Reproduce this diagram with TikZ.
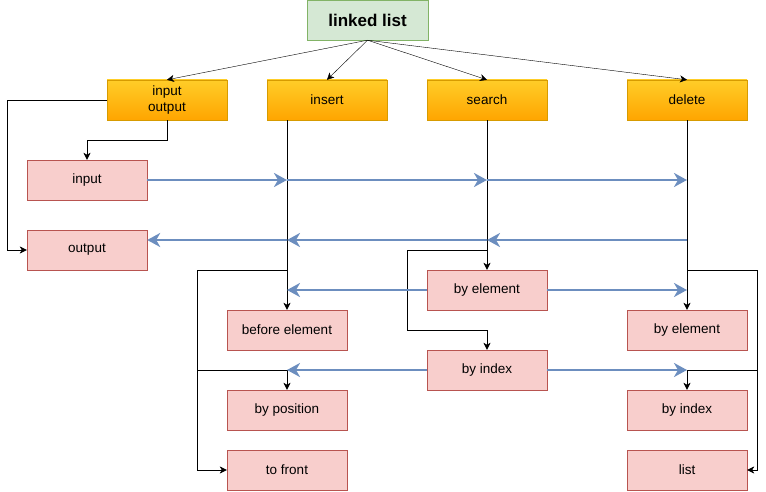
\documentclass[tikz,border=0pt]{standalone}
\usepackage{fontspec}
\setmainfont{Liberation Sans}
\usepackage{xcolor}
\usepackage{tikz}
\usetikzlibrary{positioning,arrows.meta}

\definecolor{rootfill}{HTML}{D5E8D4}
\definecolor{rootline}{HTML}{82B366}
\definecolor{optop}{HTML}{FFCD28}
\definecolor{opbottom}{HTML}{FFA500}
\definecolor{opline}{HTML}{D79B00}
\definecolor{leaffill}{HTML}{F8CECC}
\definecolor{leafline}{HTML}{B85450}
\definecolor{flowline}{HTML}{6C8EBF}

\begin{document}
\begin{tikzpicture}[x=1pt, y=-1pt, >={Stealth[length=7pt,width=7pt,inset=2pt]},
  every node/.style={font=\fontsize{13.5}{15.5}\selectfont, inner sep=0pt, align=center},
  rootbox/.style={draw=rootline, fill=rootfill, minimum width=121pt, minimum height=40pt, font=\fontsize{17}{19}\selectfont\bfseries},
  opbox/.style={draw=opline, top color=optop, bottom color=opbottom, minimum width=120pt, minimum height=40pt},
  leafbox/.style={draw=leafline, fill=leaffill, minimum width=120pt, minimum height=40pt},
  flow/.style={draw=flowline, line width=2.5pt, -{Stealth[length=13pt,width=14pt,inset=4pt]}}]
\useasboundingbox (0,0) rectangle (766,492);

% root node
\node[rootbox] (ll) at (367.5,20) {linked list};

% operation nodes
\node[opbox] (io) at (167,100) {input\\output};
\node[opbox] (insert) at (327,100) {insert};
\node[opbox] (search) at (487,100) {search};
\node[opbox] (delete) at (687,100) {delete};

% leaf nodes
\node[leafbox] (input) at (87,180) {input};
\node[leafbox] (output) at (87,250) {output};
\node[leafbox] (selem) at (487,290) {by element};
\node[leafbox] (before) at (287,330) {before element};
\node[leafbox] (delem) at (687,330) {by element};
\node[leafbox] (sidx) at (487,370) {by index};
\node[leafbox] (bypos) at (287,410) {by position};
\node[leafbox] (didx) at (687,410) {by index};
\node[leafbox] (front) at (287,470) {to front};
\node[leafbox] (dlist) at (687,470) {list};

% root to operations
\draw[->] (ll.south) -- (io.north);
\draw[->] (ll.south) -- (insert.north);
\draw[->] (ll.south) -- (search.north);
\draw[->] (ll.south) -- (delete.north);

% input output
\draw[->] (io.west) -- ++(-100,0) |- (output.west);
\draw[->] (io.south) -- ++(0,20) -| (input.north);

% insert
\coordinate (ins) at (insert.south -| before.north);
\draw[->] (ins) -- (before.north);
\draw[->] (ins) -- ++(0,150) -- ++(-90,0) |- (front.west);
\draw[->] (ins) -- ++(0,150) -- ++(-90,0) -- ++(0,100) -| (bypos.north);

% search
\draw[->] (search.south) -- (selem.north);
\draw[->] (search.south) -- ++(0,130) -- ++(-80,0) -- ++(0,80) -| (sidx.north);

% delete
\draw[->] (delete.south) -- (delem.north);
\draw[->] (delete.south) -- ++(0,150) -- ++(70,0) |- (dlist.east);
\draw[->] (delete.south) -- ++(0,150) -- ++(70,0) -- ++(0,100) -| (didx.north);

% flow arrows
\draw[flow] (input.east) -- (input.east -| ins);
\draw[flow] (input.east -| ins) -- (input.east -| search.south);
\draw[flow] (input.east -| search.south) -- (input.east -| delete.south);

\coordinate (oback) at ([yshift=10pt]output.east);
\draw[flow] (oback -| delete.south) -- (oback -| search.south);
\draw[flow] (oback -| search.south) -- (oback -| ins);
\draw[flow] (oback -| ins) -- (oback);

\draw[flow] (selem.west) -- (selem.west -| ins);
\draw[flow] (selem.east) -- (selem.east -| delete.south);
\draw[flow] (sidx.west) -- (sidx.west -| ins);
\draw[flow] (sidx.east) -- (sidx.east -| delete.south);
\end{tikzpicture}
\end{document}
